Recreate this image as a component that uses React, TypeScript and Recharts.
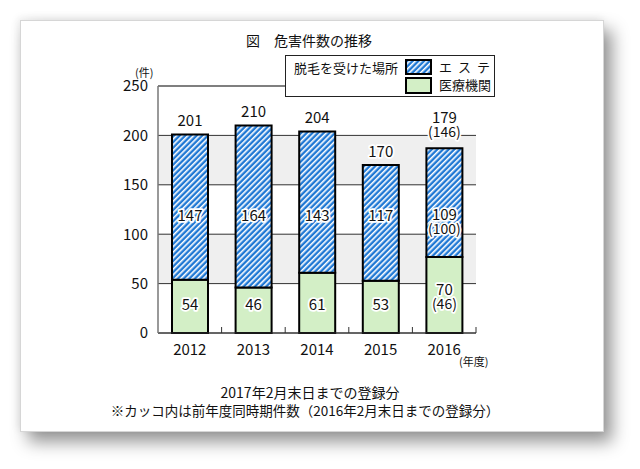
import React from "react";
import { Bar, BarChart, CartesianGrid, LabelList, ReferenceLine, XAxis, YAxis } from "recharts";

const years = ["2012", "2013", "2014", "2015", "2016"];
// heights of the segments as drawn in the picture
const clinic = [54, 46, 61, 53, 77];
const salon = [147, 164, 143, 117, 110];
// printed labels
const clinicLabels = ["54", "46", "61", "53", "70"];
const salonLabels = ["147", "164", "143", "117", "109"];
const totalLabels = ["201", "210", "204", "170", "179"];
const prevClinic = ["", "", "", "", "(46)"];
const prevSalon = ["", "", "", "", "(100)"];
const prevTotal = ["", "", "", "", "(146)"];
const yTicks = [0, 50, 100, 150, 200, 250];

const data = years.map((y, i) => ({ year: y, clinic: clinic[i], salon: salon[i] }));

const W = 640;
const H = 469;
const TOP = 86;
const BOTTOM = 333;
const LEFT = 158;
const RIGHT = 476;
const FONT = '"Noto Sans CJK JP", "Noto Sans", sans-serif';
const BLUE = "#1f78d4";
const GREEN = "#d3efc6";

const yPx = (v: number) => BOTTOM - (v / 250) * (BOTTOM - TOP);

function Halo({ x, y, size = 15, children }: any) {
  return (
    <text
      x={x}
      y={y}
      textAnchor="middle"
      dominantBaseline="central"
      fontSize={size}
      fontFamily={FONT}
      fill="#111"
      stroke="#fff"
      strokeWidth={3.5}
      strokeLinejoin="round"
      style={{ paintOrder: "stroke" }}
    >
      {children}
    </text>
  );
}

const salonLabel = (props: any) => {
  const { x, width, index } = props;
  const cx = x + width / 2;
  const two = prevSalon[index] !== "";
  const y0 = yPx(two ? 121 : 120);
  return (
    <g>
      <Halo x={cx} y={y0}>{salonLabels[index]}</Halo>
      {two && <Halo x={cx} y={y0 + 15} size={14}>{prevSalon[index]}</Halo>}
    </g>
  );
};

const clinicLabel = (props: any) => {
  const { x, width, index } = props;
  const cx = x + width / 2;
  const two = prevClinic[index] !== "";
  const y0 = yPx(two ? 45.5 : 29.5);
  return (
    <g>
      <Halo x={cx} y={y0}>{clinicLabels[index]}</Halo>
      {two && <Halo x={cx} y={y0 + 15} size={14}>{prevClinic[index]}</Halo>}
    </g>
  );
};

const totalLabel = (props: any) => {
  const { x, y, width, index } = props;
  const cx = x + width / 2;
  const two = prevTotal[index] !== "";
  return (
    <g>
      {two ? (
        <>
          <Halo x={cx} y={y - 32}>{totalLabels[index]}</Halo>
          <Halo x={cx} y={y - 17} size={14}>{prevTotal[index]}</Halo>
        </>
      ) : (
        <Halo x={cx} y={y - 15}>{totalLabels[index]}</Halo>
      )}
    </g>
  );
};

const XTick = (props: any) => {
  const { x, y, payload } = props;
  const half = payload?.offset || (RIGHT - LEFT) / years.length / 2;
  return (
    <g>
      <line x1={x + half} x2={x + half} y1={y} y2={y - 6} stroke="#333" strokeWidth={1} />
      <text
        x={x}
        y={y + 15}
        textAnchor="middle"
        dominantBaseline="central"
        fontSize={15}
        fontFamily={FONT}
        fill="#111"
      >
        {payload.value}
      </text>
    </g>
  );
};

function Hatch({ id }: { id: string }) {
  return (
    <pattern id={id} width={4} height={4} patternUnits="userSpaceOnUse" patternTransform="rotate(45)">
      <rect width={4} height={4} fill={BLUE} />
      <rect width={1.6} height={4} fill="#fff" />
    </pattern>
  );
}

const abs = (left: number, top: number, fontSize: number, extra: any = {}) => ({
  position: "absolute" as const,
  left,
  top: top - fontSize * 0.6,
  fontSize,
  lineHeight: `${fontSize * 1.2}px`,
  fontFamily: FONT,
  color: "#111",
  whiteSpace: "nowrap" as const,
  ...extra,
});

export default function App() {
  return (
    <div style={{ position: "absolute", left: 0, top: 0, width: W, height: H, background: "#fff", overflow: "hidden" }}>
      <div
        style={{
          position: "absolute",
          left: 20,
          top: 20,
          width: 582,
          height: 410,
          background: "#fff",
          border: "1px solid #d6d6d6",
          boxShadow: "8px 10px 16px rgba(0,0,0,0.42), -2px -2px 8px rgba(0,0,0,0.08)",
        }}
      />
      <div style={{ position: "absolute", left: 0, top: 0 }}>
        <BarChart width={W} height={H} data={data} margin={{ top: TOP, right: W - RIGHT, bottom: 0, left: 0 }}>
          <defs>
            <Hatch id="hatch" />
          </defs>
          <CartesianGrid
            vertical={false}
            stroke="#333"
            horizontalFill={["#ffffff", "#efefef", "#ffffff", "#efefef", "#ffffff"]}
          />
          <ReferenceLine y={250} stroke="#777" strokeWidth={1.5} />
          <XAxis
            dataKey="year"
            height={H - BOTTOM}
            tickLine={false}
            tickSize={0}
            tickMargin={0}
            axisLine={{ stroke: "#333" }}
            tick={<XTick />}
            interval={0}
          />
          <YAxis
            width={LEFT}
            domain={[0, 250]}
            ticks={yTicks}
            tickLine={false}
            tickSize={0}
            tickMargin={10}
            axisLine={{ stroke: "#777", strokeWidth: 1.5 }}
            tick={{ fontSize: 15, fill: "#111", fontFamily: FONT }}
            interval={0}
          />
          <Bar dataKey="clinic" stackId="a" barSize={36} fill={GREEN} stroke="#000" strokeWidth={2} isAnimationActive={false}>
            <LabelList dataKey="clinic" content={clinicLabel} />
          </Bar>
          <Bar dataKey="salon" stackId="a" barSize={36} fill="url(#hatch)" stroke="#000" strokeWidth={2} isAnimationActive={false}>
            <LabelList dataKey="salon" content={salonLabel} />
            <LabelList dataKey="salon" content={totalLabel} />
          </Bar>
        </BarChart>
      </div>

      <div style={abs(246, 40, 14)}>図　危害件数の推移</div>
      <div style={abs(135, 73, 11)}>(件)</div>
      <div style={abs(459, 362, 11)}>(年度)</div>

      <div
        style={{
          position: "absolute",
          left: 285,
          top: 55,
          width: 208,
          height: 40,
          background: "#fff",
          border: "1.5px solid #222",
        }}
      />
      <div style={abs(294, 68, 13)}>脱毛を受けた場所</div>
      <svg style={{ position: "absolute", left: 405, top: 59 }} width={27} height={35}>
        <defs>
          <Hatch id="hatchLegend" />
        </defs>
        <rect x={1} y={1} width={25} height={14} fill="url(#hatchLegend)" stroke="#000" strokeWidth={2} />
        <rect x={1} y={19} width={25} height={15} fill={GREEN} stroke="#000" strokeWidth={2} />
      </svg>
      <div style={abs(439, 67, 13, { letterSpacing: 6 })}>エステ</div>
      <div style={abs(439, 85, 13)}>医療機関</div>

      <div style={abs(0, 392, 14, { width: 620, textAlign: "center" })}>2017年2月末日までの登録分</div>
      <div style={abs(0, 410, 13.5, { width: 610, textAlign: "center" })}>
        ※カッコ内は前年度同時期件数（2016年2月末日までの登録分）
      </div>
    </div>
  );
}
